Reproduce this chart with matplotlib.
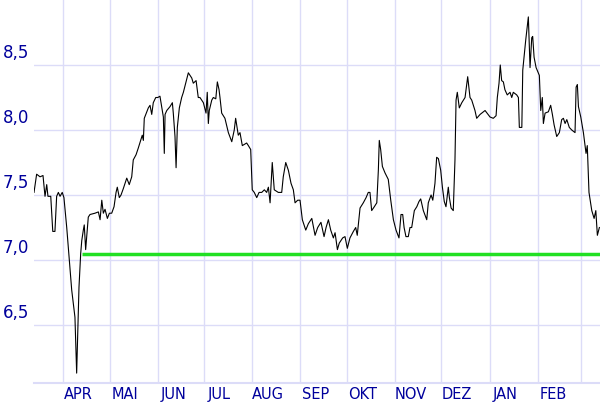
#!/usr/bin/env python
""" Kursverlauf mit Unterstuetzungslinie """
import matplotlib

matplotlib.use("Agg")
import matplotlib.pyplot as plt
import pandas as pd
from matplotlib.transforms import offset_copy

BASE_DATE = pd.Timestamp("2022-04-01")

# days relative to BASE_DATE
days = [
    -18.7, -17.0, -14.8, -12.9, -11.6, -10.5, -9.7, -7.9, -6.6, -5.2, -4.1, -3.0, -1.9, -0.5,
    0.6, 2.4, 4.1, 5.6, 6.6, 7.7, 8.8, 9.5, 10.3, 11.4, 12.1, 13.1, 13.7, 14.6, 15.3, 16.3,
    17.4, 20.6, 22.8, 23.9, 25.0, 26.0, 27.1, 28.6, 29.9, 31.4, 32.9, 34.2, 35.0, 36.3, 37.4,
    38.9, 41.1, 42.7, 44.3, 45.3, 47.1, 48.5, 50.1, 51.1, 51.8, 52.4, 54.0, 55.0, 56.1, 57.2,
    58.2, 59.8, 61.1, 62.5, 63.6, 64.7, 65.3, 65.8, 66.9, 69.0, 70.5, 71.1, 72.2, 72.9, 73.7,
    75.0, 76.5, 77.6, 79.1, 80.8, 83.0, 84.0, 85.8, 87.2, 88.3, 90.5, 92.2, 93.0, 93.7, 94.3,
    95.9, 96.9, 98.5, 99.5, 100.6, 101.2, 102.3, 104.4, 106.6, 108.8, 110.4, 111.3, 113.0, 114.1,
    115.6, 118.4, 119.5, 121.0, 122.0, 123.3, 124.9, 126.4, 128.1, 129.8, 131.3, 132.4, 133.5,
    134.9, 136.2, 138.8, 141.0, 142.0, 143.6, 145.3, 147.0, 148.5, 149.6, 151.3, 152.8, 154.3,
    156.5, 158.2, 160.4, 162.5, 164.2, 166.3, 168.3, 169.6, 171.1, 172.6, 174.3, 175.4, 176.9,
    178.1, 180.3, 181.8, 183.3, 185.0, 187.2, 188.7, 189.7, 191.5, 193.6, 195.4, 196.8, 197.9,
    199.0, 200.7, 202.3, 203.3, 203.9, 204.8, 205.9, 207.6, 209.7, 211.3, 213.0, 214.7, 216.6,
    217.9, 219.0, 219.9, 221.1, 222.6, 223.7, 224.8, 226.5, 228.1, 229.5, 230.6, 232.3, 234.5,
    235.5, 237.3, 238.4, 239.8, 240.9, 242.0, 243.5, 244.6, 245.8, 246.9, 248.4, 249.1, 250.2,
    251.6, 252.7, 253.4, 254.2, 255.5, 257.1, 259.2, 260.9, 262.4, 263.5, 265.6, 266.7, 268.9,
    272.1, 275.3, 277.4, 279.2, 280.0, 281.1, 281.9, 282.8, 283.9, 284.9, 286.4, 288.2, 289.3,
    290.3, 292.5, 293.6, 294.2, 295.8, 296.4, 297.2, 298.3, 300.0, 301.1, 302.2, 302.8, 303.7,
    305.0, 307.1, 308.0, 309.0, 309.7, 310.8, 312.9, 314.4, 315.5, 316.6, 318.3, 320.0, 321.5,
    322.6, 323.7, 324.8, 326.4, 328.0, 330.1, 330.8, 331.6, 332.3, 333.8, 335.5, 337.2, 338.0,
    339.1, 340.9, 342.4, 343.5, 344.5, 345.8,
]

prices = [
    7.52, 7.66, 7.64, 7.65, 7.49, 7.58, 7.49, 7.49, 7.22, 7.22, 7.49, 7.52, 7.49, 7.52,
    7.48, 7.25, 7.00, 6.77, 6.67, 6.56, 6.13, 6.44, 6.79, 7.05, 7.15, 7.23, 7.27, 7.08, 7.18, 7.33,
    7.35, 7.36, 7.37, 7.31, 7.46, 7.36, 7.39, 7.32, 7.36, 7.36, 7.41, 7.52, 7.56, 7.48, 7.50,
    7.55, 7.63, 7.58, 7.64, 7.77, 7.81, 7.86, 7.92, 7.96, 7.92, 8.09, 8.14, 8.17, 8.19, 8.12,
    8.21, 8.25, 8.25, 8.26, 8.18, 8.10, 7.82, 8.12, 8.15, 8.18, 8.21, 8.13, 7.95, 7.71, 8.02,
    8.17, 8.25, 8.29, 8.36, 8.44, 8.40, 8.36, 8.38, 8.25, 8.25, 8.21, 8.13, 8.29, 8.05, 8.15,
    8.23, 8.25, 8.24, 8.37, 8.31, 8.25, 8.13, 8.09, 7.98, 7.91, 8.00, 8.09, 7.96, 7.98,
    7.88, 7.90, 7.88, 7.85, 7.54, 7.52, 7.48, 7.52, 7.52, 7.54, 7.52, 7.56, 7.44,
    7.75, 7.54, 7.52, 7.52, 7.64, 7.75, 7.69, 7.59, 7.54, 7.44, 7.46, 7.46, 7.31,
    7.23, 7.28, 7.32, 7.19, 7.25, 7.29, 7.18, 7.25, 7.31, 7.23, 7.17, 7.21, 7.08,
    7.13, 7.17, 7.18, 7.09, 7.17, 7.22, 7.25, 7.19, 7.40, 7.44, 7.48, 7.52, 7.52,
    7.38, 7.41, 7.44, 7.69, 7.92, 7.85, 7.72, 7.67, 7.62, 7.46, 7.31, 7.23, 7.17,
    7.35, 7.35, 7.25, 7.18, 7.18, 7.25, 7.25, 7.38, 7.41, 7.45, 7.47, 7.38, 7.31,
    7.44, 7.50, 7.46, 7.59, 7.79, 7.78, 7.69, 7.56, 7.45, 7.41, 7.56, 7.48, 7.40,
    7.38, 7.77, 8.23, 8.29, 8.17, 8.21, 8.25, 8.41, 8.25, 8.23, 8.15, 8.09, 8.12,
    8.15, 8.10, 8.09, 8.11, 8.25, 8.36, 8.50, 8.38, 8.37, 8.31, 8.27, 8.29, 8.25,
    8.29, 8.27, 8.25, 8.02, 8.02, 8.46, 8.56, 8.69, 8.87, 8.48, 8.71, 8.72, 8.56,
    8.48, 8.42, 8.15, 8.25, 8.05, 8.13, 8.14, 8.19, 8.12, 8.04, 7.95, 7.98, 8.08,
    8.09, 8.05, 8.08, 8.02, 8.00, 7.98, 8.33, 8.35, 8.18, 8.10, 7.98, 7.82, 7.88,
    7.52, 7.38, 7.32, 7.38, 7.19, 7.25,
]

# horizontal support line
support_start_day = 12.1
support_level = 7.046

month_labels = ["APR", "MAI", "JUN", "JUL", "AUG", "SEP", "OKT", "NOV", "DEZ", "JAN", "FEB"]
y_ticks = [6.5, 7.0, 7.5, 8.0, 8.5]
y_labels = ["6,5", "7,0", "7,5", "8,0", "8,5"]

GRID_COLOR = "#dcdcf8"
LABEL_COLOR = "#00009c"


def plot_chart(destination_file: str = "out.png") -> None:
    dates = BASE_DATE + pd.to_timedelta(days, unit="D")
    month_starts = pd.date_range(BASE_DATE, periods=12, freq="MS")
    label_pos = month_starts[:-1] + pd.Timedelta(days=10)

    fig = plt.figure(figsize=(6.0, 4.04), dpi=100)
    ax = fig.add_axes([34 / 600, 21 / 404, 566 / 600, 383 / 404])

    ax.plot(dates, prices, color="black", linewidth=0.8, zorder=3)
    ax.hlines(
        support_level,
        BASE_DATE + pd.Timedelta(days=support_start_day),
        BASE_DATE + pd.Timedelta(days=400),
        color="#22e022",
        linewidth=2.5,
        zorder=4,
    )

    ax.set_xlim(BASE_DATE + pd.Timedelta(days=-18.7), BASE_DATE + pd.Timedelta(days=346.2))
    ax.set_ylim(6.054, 9.0)

    # grid on month starts / y ticks
    ax.set_xticks(month_starts)
    ax.set_xticklabels([])
    ax.set_xticks(label_pos, minor=True)
    ax.set_xticklabels(month_labels, minor=True, color=LABEL_COLOR, fontsize=10.5)
    ax.set_yticks(y_ticks)
    ax.set_yticklabels([])
    ax.tick_params(which="both", length=0, pad=3)
    ax.grid(which="major", color=GRID_COLOR, linewidth=1.0, zorder=0)

    label_trans = offset_copy(ax.get_yaxis_transform(), fig=fig, x=-5, y=7, units="dots")
    for v, lbl in zip(y_ticks, y_labels):
        ax.text(0, v, lbl, transform=label_trans, ha="right", va="baseline",
                color=LABEL_COLOR, fontsize=12)

    for side in ["top", "right", "left"]:
        ax.spines[side].set_visible(False)
    ax.spines["bottom"].set_color(GRID_COLOR)
    ax.spines["bottom"].set_linewidth(1.5)

    fig.savefig(destination_file, dpi=100)


if __name__ == "__main__":
    plot_chart()
